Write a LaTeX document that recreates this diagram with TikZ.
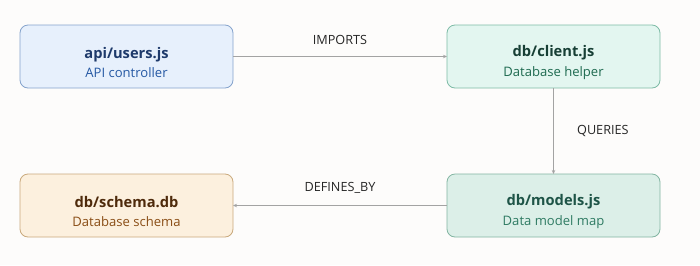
\documentclass[tikz,border=0pt]{standalone}
\usepackage{fontspec}
\setmainfont{Open Sans}
\usetikzlibrary{arrows.meta,positioning}
\definecolor{bgpage}{HTML}{FDFCFB}
\definecolor{edgegray}{HTML}{A3A3A3}
\definecolor{usersfill}{HTML}{E7F0FC}
\definecolor{usersdraw}{HTML}{85A3CC}
\definecolor{userstitle}{HTML}{1E3A6B}
\definecolor{userssub}{HTML}{2558A3}
\definecolor{clientfill}{HTML}{E3F6F0}
\definecolor{clientdraw}{HTML}{7DBBA6}
\definecolor{clienttitle}{HTML}{173F35}
\definecolor{clientsub}{HTML}{1E6A50}
\definecolor{modelsfill}{HTML}{DCEFE8}
\definecolor{modelsdraw}{HTML}{83B5A2}
\definecolor{modelstitle}{HTML}{1E5447}
\definecolor{modelssub}{HTML}{2F7B63}
\definecolor{schemafill}{HTML}{FCF0DE}
\definecolor{schemadraw}{HTML}{C9A97C}
\definecolor{schematitle}{HTML}{4E2A0B}
\definecolor{schemasub}{HTML}{8A4E16}
\tikzset{
  block/.style={draw, rectangle, rounded corners=6pt, line width=0.6pt,
    minimum width=159.75pt, minimum height=47.25pt, outer sep=0pt,
    align=center, inner sep=2pt},
  link/.style={draw=edgegray, line width=0.8pt, ->},
  linklabel/.style={font=\fontsize{9.5}{11}\selectfont, text=black!85}
}

\begin{document}
\begin{tikzpicture}[>={Stealth[length=3pt,width=2.6pt]}]
  \fill[bgpage] (0,0) rectangle (525pt,-198.75pt);
  \useasboundingbox (0,0) rectangle (525pt,-198.75pt);
  % Nodes
  \node [block, fill=usersfill, draw=usersdraw] (users) at (94.875pt,-42.375pt)
    {{\fontsize{11}{13}\selectfont\bfseries\color{userstitle}\rule{0pt}{17.5pt}api/users.js}\\[2.5pt]
     {\fontsize{9.8}{12}\selectfont\color{userssub} API controller}};
  \node [block, fill=clientfill, draw=clientdraw, right=160.5pt of users] (client)
    {{\fontsize{11}{13}\selectfont\bfseries\color{clienttitle}\rule{0pt}{17.5pt}db/client.js}\\[2.5pt]
     {\fontsize{9.8}{12}\selectfont\color{clientsub} Database helper}};
  \node [block, fill=modelsfill, draw=modelsdraw, below=64.5pt of client] (models)
    {{\fontsize{11}{13}\selectfont\bfseries\color{modelstitle}\rule{0pt}{17.5pt}db/models.js}\\[2.5pt]
     {\fontsize{9.8}{12}\selectfont\color{modelssub} Data model map}};
  \node [block, fill=schemafill, draw=schemadraw, below=64.5pt of users] (schema)
    {{\fontsize{11}{13}\selectfont\bfseries\color{schematitle}\rule{0pt}{17.5pt}db/schema.db}\\[2.5pt]
     {\fontsize{9.8}{12}\selectfont\color{schemasub} Database schema}};

  % Links
  \draw [link] (users) -- node [linklabel, above=5pt] {IMPORTS} (client);
  \draw [link] (client) -- node [linklabel, right=14pt] {QUERIES} (models);
  \draw [link] (models) -- node [linklabel, above=5pt] {DEFINES\_BY} (schema);
\end{tikzpicture}
\end{document}
